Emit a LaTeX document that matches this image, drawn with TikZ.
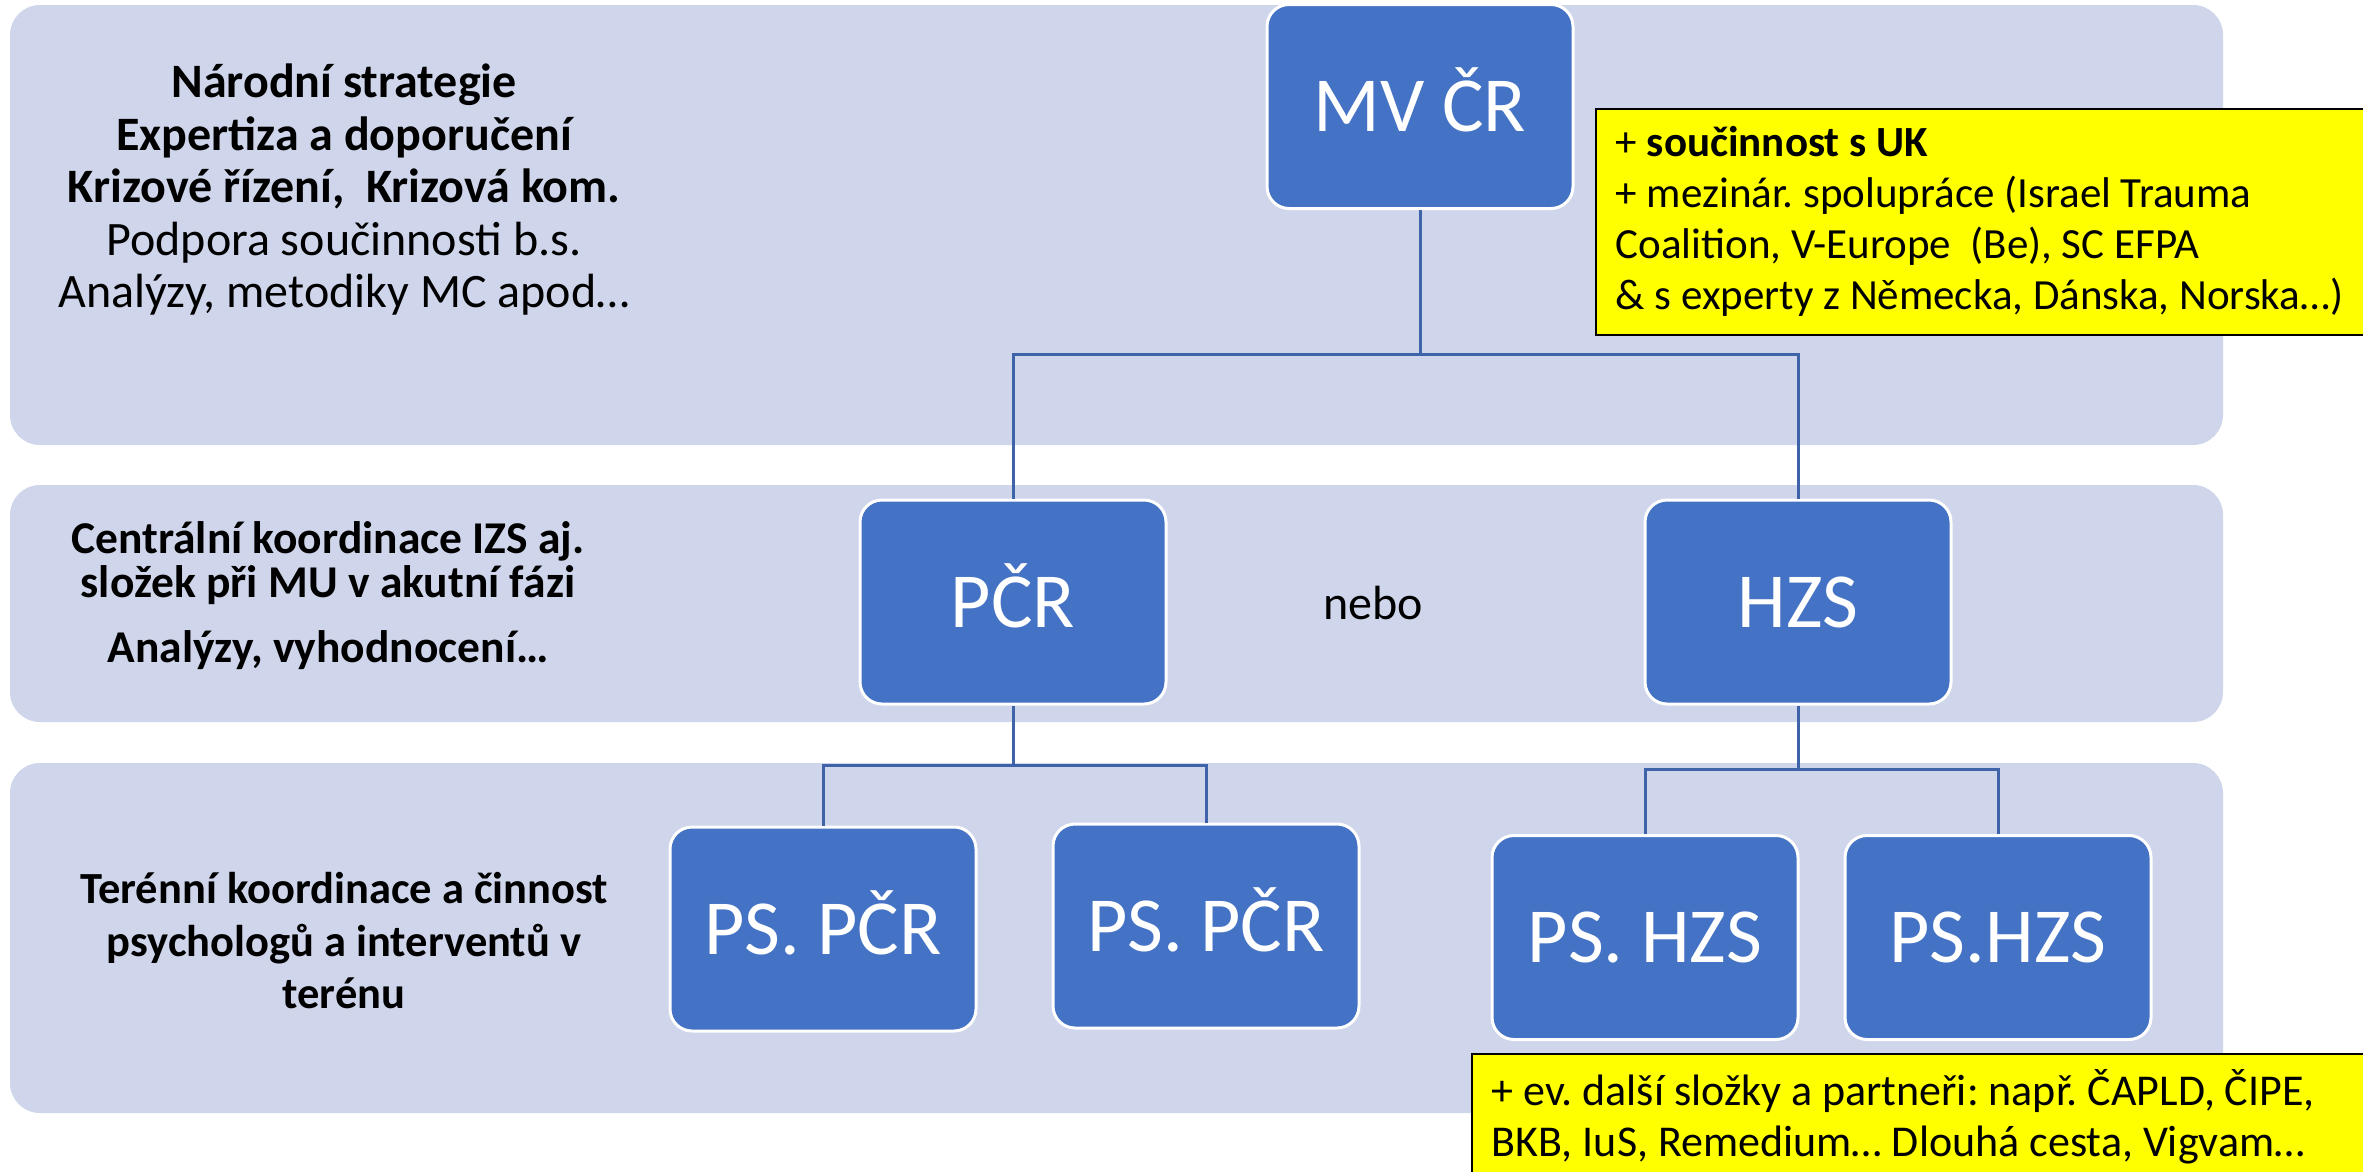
\documentclass[tikz,border=0pt]{standalone}
\usepackage{fontspec}
\setmainfont{Carlito}
\usetikzlibrary{calc}

\definecolor{bandgray}{HTML}{CFD5EA}
\definecolor{boxblue}{HTML}{4472C4}
\definecolor{linkblue}{HTML}{3F63A8}
\definecolor{noteyellow}{HTML}{FFFF00}

\begin{document}
\frenchspacing
\begin{tikzpicture}[x=1pt, y=-1pt,
  unit/.style={fill=boxblue, draw=white, line width=3pt, rounded corners=22pt,
    minimum width=306pt, minimum height=204pt, inner sep=0pt, text=white,
    text height=50pt, text depth=0pt, font=\fontsize{78}{94}\selectfont},
  link/.style={draw=linkblue, line width=3pt},
  note/.style={fill=noteyellow, draw=black, line width=1.5pt, anchor=north west,
    align=flush left, inner xsep=20pt, font=\fontsize{43}{51}\selectfont},
  leveltext/.style={align=center, inner sep=0pt, font=\fontsize{48}{52.5}\selectfont}
]
  % Page frame
  \useasboundingbox (0,0) rectangle (2363,1171);
  \clip (0,0) rectangle (2363,1171);
  \fill[white] (0,0) rectangle (2363,1171);

  % Draw the three level bands
  \fill[bandgray, rounded corners=30pt] (10,5) rectangle (2223,445);
  \fill[bandgray, rounded corners=30pt] (10,485) rectangle (2223,722);
  \fill[bandgray, rounded corners=30pt] (10,763) rectangle (2223,1113);

  % Level descriptions
  \node[leveltext] (strat) at (344,190)
    {\bfseries Národní strategie\\ \bfseries Expertiza a doporučení\\
     \bfseries Krizové řízení,\ \ Krizová kom.\\
     Podpora součinnosti b.s.\\ Analýzy, metodiky MC apod…};
  \node[leveltext, font=\fontsize{45.5}{44}\selectfont\bfseries] (central) at (328,596)
    {Centrální koordinace IZS aj.\\ složek při MU v akutní fázi\\[21pt]
     Analýzy, vyhodnocení…};
  \node[leveltext, font=\fontsize{44.5}{52.5}\selectfont\bfseries] (field) at (344,941)
    {Terénní koordinace a činnost\\ psychologů a interventů v\\ terénu};

  % Units
  \node[unit] (mvcr) at (1420,106.5) {MV ČR};
  \node[unit] (pcr) at (1013,602) {PČR};
  \node[unit] (hzs) at (1798,602) {HZS};
  \node[leveltext] (nebo) at (1373,603) {nebo};
  \node[unit] (pspcr1) at (823,929) {PS. PČR};
  \node[unit] (pspcr2) at (1206,926) {PS. PČR};
  \node[unit] (pshzs1) at (1645,937.5) {PS. HZS};
  \node[unit] (pshzs2) at (1998,937.5) {PS.HZS};

  % Connectors
  \coordinate (topbus) at (1420,354);
  \coordinate (pcrbus) at (1013,765);
  \coordinate (hzsbus) at (1798,769);
  \draw[link] (mvcr.south) -- (topbus);
  \draw[link] (pcr.north) |- (topbus) -| (hzs.north);
  \draw[link] (pcr.south) -- (pcrbus);
  \draw[link] (pspcr1.north) |- (pcrbus) -| (pspcr2.north);
  \draw[link] (hzs.south) -- (hzsbus);
  \draw[link] (pshzs1.north) |- (hzsbus) -| (pshzs2.north);

  % Notes
  \node[note, text width=820pt, minimum height=226pt] (coop) at (1595,108)
    {+ \textbf{součinnost s UK}\\
     + mezinár. spolupráce (Israel Trauma\\
     Coalition, V-Europe\ \ (Be), SC EFPA\\
     \& s experty z Německa, Dánska, Norska…)};
  \node[note, text width=900pt, inner ysep=16pt, font=\fontsize{44}{51}\selectfont]
    (partners) at (1471,1053)
    {+ ev. další složky a partneři: např. ČAPLD, ČIPE,\\
     BKB, IuS, Remedium… Dlouhá cesta, Vigvam…};
\end{tikzpicture}
\end{document}
